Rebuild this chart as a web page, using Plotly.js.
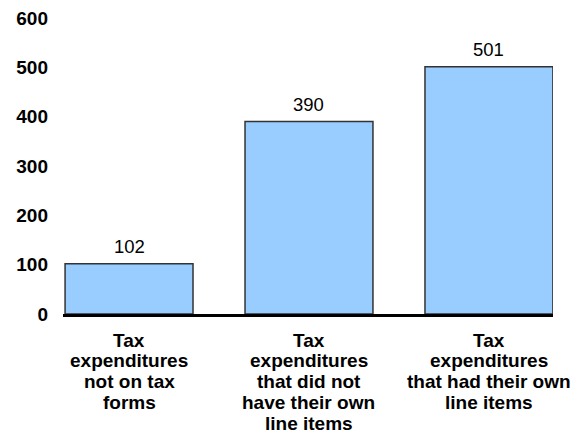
<!DOCTYPE html>
<html>
<head>
<meta charset="utf-8">
<script src="https://cdn.plot.ly/plotly-3.0.1.min.js"></script>
<style>html,body{margin:0;padding:0;background:#fff;}#chart{width:572px;height:431px;}</style>
</head>
<body>
<div id="chart"></div>
<script>
var categories = [
  "Tax<br>expenditures<br>not on tax<br>forms",
  "Tax<br>expenditures<br>that did not<br>have their own<br>line items",
  "Tax<br>expenditures<br>that had their own<br>line items"
];
var values = [102, 390, 501];
var valueLabels = ["102", "390", "501"];
var yTicks = [0, 100, 200, 300, 400, 500, 600];

var xIdx = categories.map(function(_, i){ return i; });

var annotations = [];
categories.forEach(function(cat, i){
  cat.split("<br>").forEach(function(line, k){
    annotations.push({
      x: i, y: 0, xref: "x", yref: "y",
      text: line, showarrow: false,
      xanchor: "center", yanchor: "middle",
      yshift: -(26 + k * 20.8),
      font: {family: "Arial, Liberation Sans, sans-serif", size: 19, color: "#000", weight: "bold"}
    });
  });
});
values.forEach(function(v, i){
  annotations.push({
    x: i, y: v, xref: "x", yref: "y",
    text: valueLabels[i], showarrow: false,
    xanchor: "center", yanchor: "middle",
    yshift: 17,
    font: {family: "Arial, Liberation Sans, sans-serif", size: 18.5, color: "#000"}
  });
});

var trace = {
  type: "bar",
  x: xIdx,
  y: values,
  marker: {color: "#99ccff", line: {color: "#333333", width: 1.5}},
  hoverinfo: "none"
};

var layout = {
  width: 572, height: 431,
  margin: {l: 63, r: 19, t: 18, b: 117},
  paper_bgcolor: "#ffffff",
  plot_bgcolor: "#ffffff",
  showlegend: false,
  bargap: 0.289,
  xaxis: {
    range: [-0.367, 2.356],
    showticklabels: false,
    showgrid: false, zeroline: false,
    showline: true, linecolor: "#000", linewidth: 3,
    ticks: "", fixedrange: true
  },
  yaxis: {
    range: [0, 600],
    tickvals: yTicks,
    ticktext: yTicks.map(String),
    showgrid: false, zeroline: false, showline: false,
    ticks: "", ticklabelstandoff: 14,
    tickfont: {family: "Arial, Liberation Sans, sans-serif", size: 19, color: "#000", weight: "bold"},
    fixedrange: true
  },
  annotations: annotations
};

Plotly.newPlot("chart", [trace], layout, {displayModeBar: false, staticPlot: true});
</script>
</body>
</html>
